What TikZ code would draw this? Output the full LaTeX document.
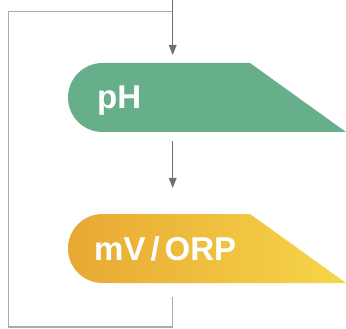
\documentclass[tikz,border=0pt]{standalone}
\usepackage{fontspec}
\setmainfont{Liberation Sans}
\usetikzlibrary{arrows.meta}
\definecolor{phgreen}{RGB}{103,174,139}
\definecolor{orpdark}{RGB}{232,168,52}
\definecolor{orplight}{RGB}{246,214,72}
\definecolor{loopgray}{RGB}{170,170,170}
\definecolor{arrowgray}{RGB}{112,112,112}
\tikzset{
  looplink/.style={draw=loopgray, line width=1.3pt},
  steplink/.style={draw=arrowgray, line width=1.4pt},
  flowarrow/.style={steplink, -{Triangle[width=7.5pt,length=10pt]}},
  tagtext/.style={text=white, font=\bfseries\fontsize{33}{33}\selectfont, anchor=base west, inner sep=0pt},
  tagbox/.style={minimum width=278pt, minimum height=69pt, inner sep=0pt, draw=none}
}
\begin{document}
\begin{tikzpicture}[x=1pt, y=-1pt]
  \useasboundingbox (0,0) rectangle (346,329);
  % tag-shaped boxes: round left end, slanted right end
  \node[tagbox, anchor=north west] (ph) at (68,63) {};
  \node[tagbox, anchor=north west] (orp) at (68,214) {};
  \fill[phgreen] (102.5,63) -- (250,63) -- (346,132) -- (102.5,132)
    arc[start angle=90, end angle=270, radius=34.5] -- cycle;
  \shade[left color=orpdark, right color=orplight] (102.5,214) -- (250,214) -- (346,283) -- (102.5,283)
    arc[start angle=90, end angle=270, radius=34.5] -- cycle;
  \node[tagtext] (phlabel) at (97,109) {pH};
  \node[tagtext] (orplabel) at (94,260) {mV\kern5pt/\kern5pt ORP};
  % connector anchors
  \coordinate (top) at (172.7,11.7);
  \coordinate (topleft) at (8.3,11.7);
  \coordinate (bottomleft) at (8.3,327);
  \coordinate (bottom) at (172.7,327);
  \coordinate (phin) at (172.7,55);
  \coordinate (phout) at (172.7,141);
  \coordinate (orpin) at (172.7,188);
  \coordinate (orpout) at (172.7,297);
  % return loop
  \draw[looplink] (orpout) -- (bottom) -- (bottomleft) -- (topleft) -- (top) -- ([yshift=20pt]top);
  \draw[flowarrow] ([yshift=20pt]top) -- (phin);
  \draw[flowarrow] (phout) -- (orpin);
\end{tikzpicture}
\end{document}
